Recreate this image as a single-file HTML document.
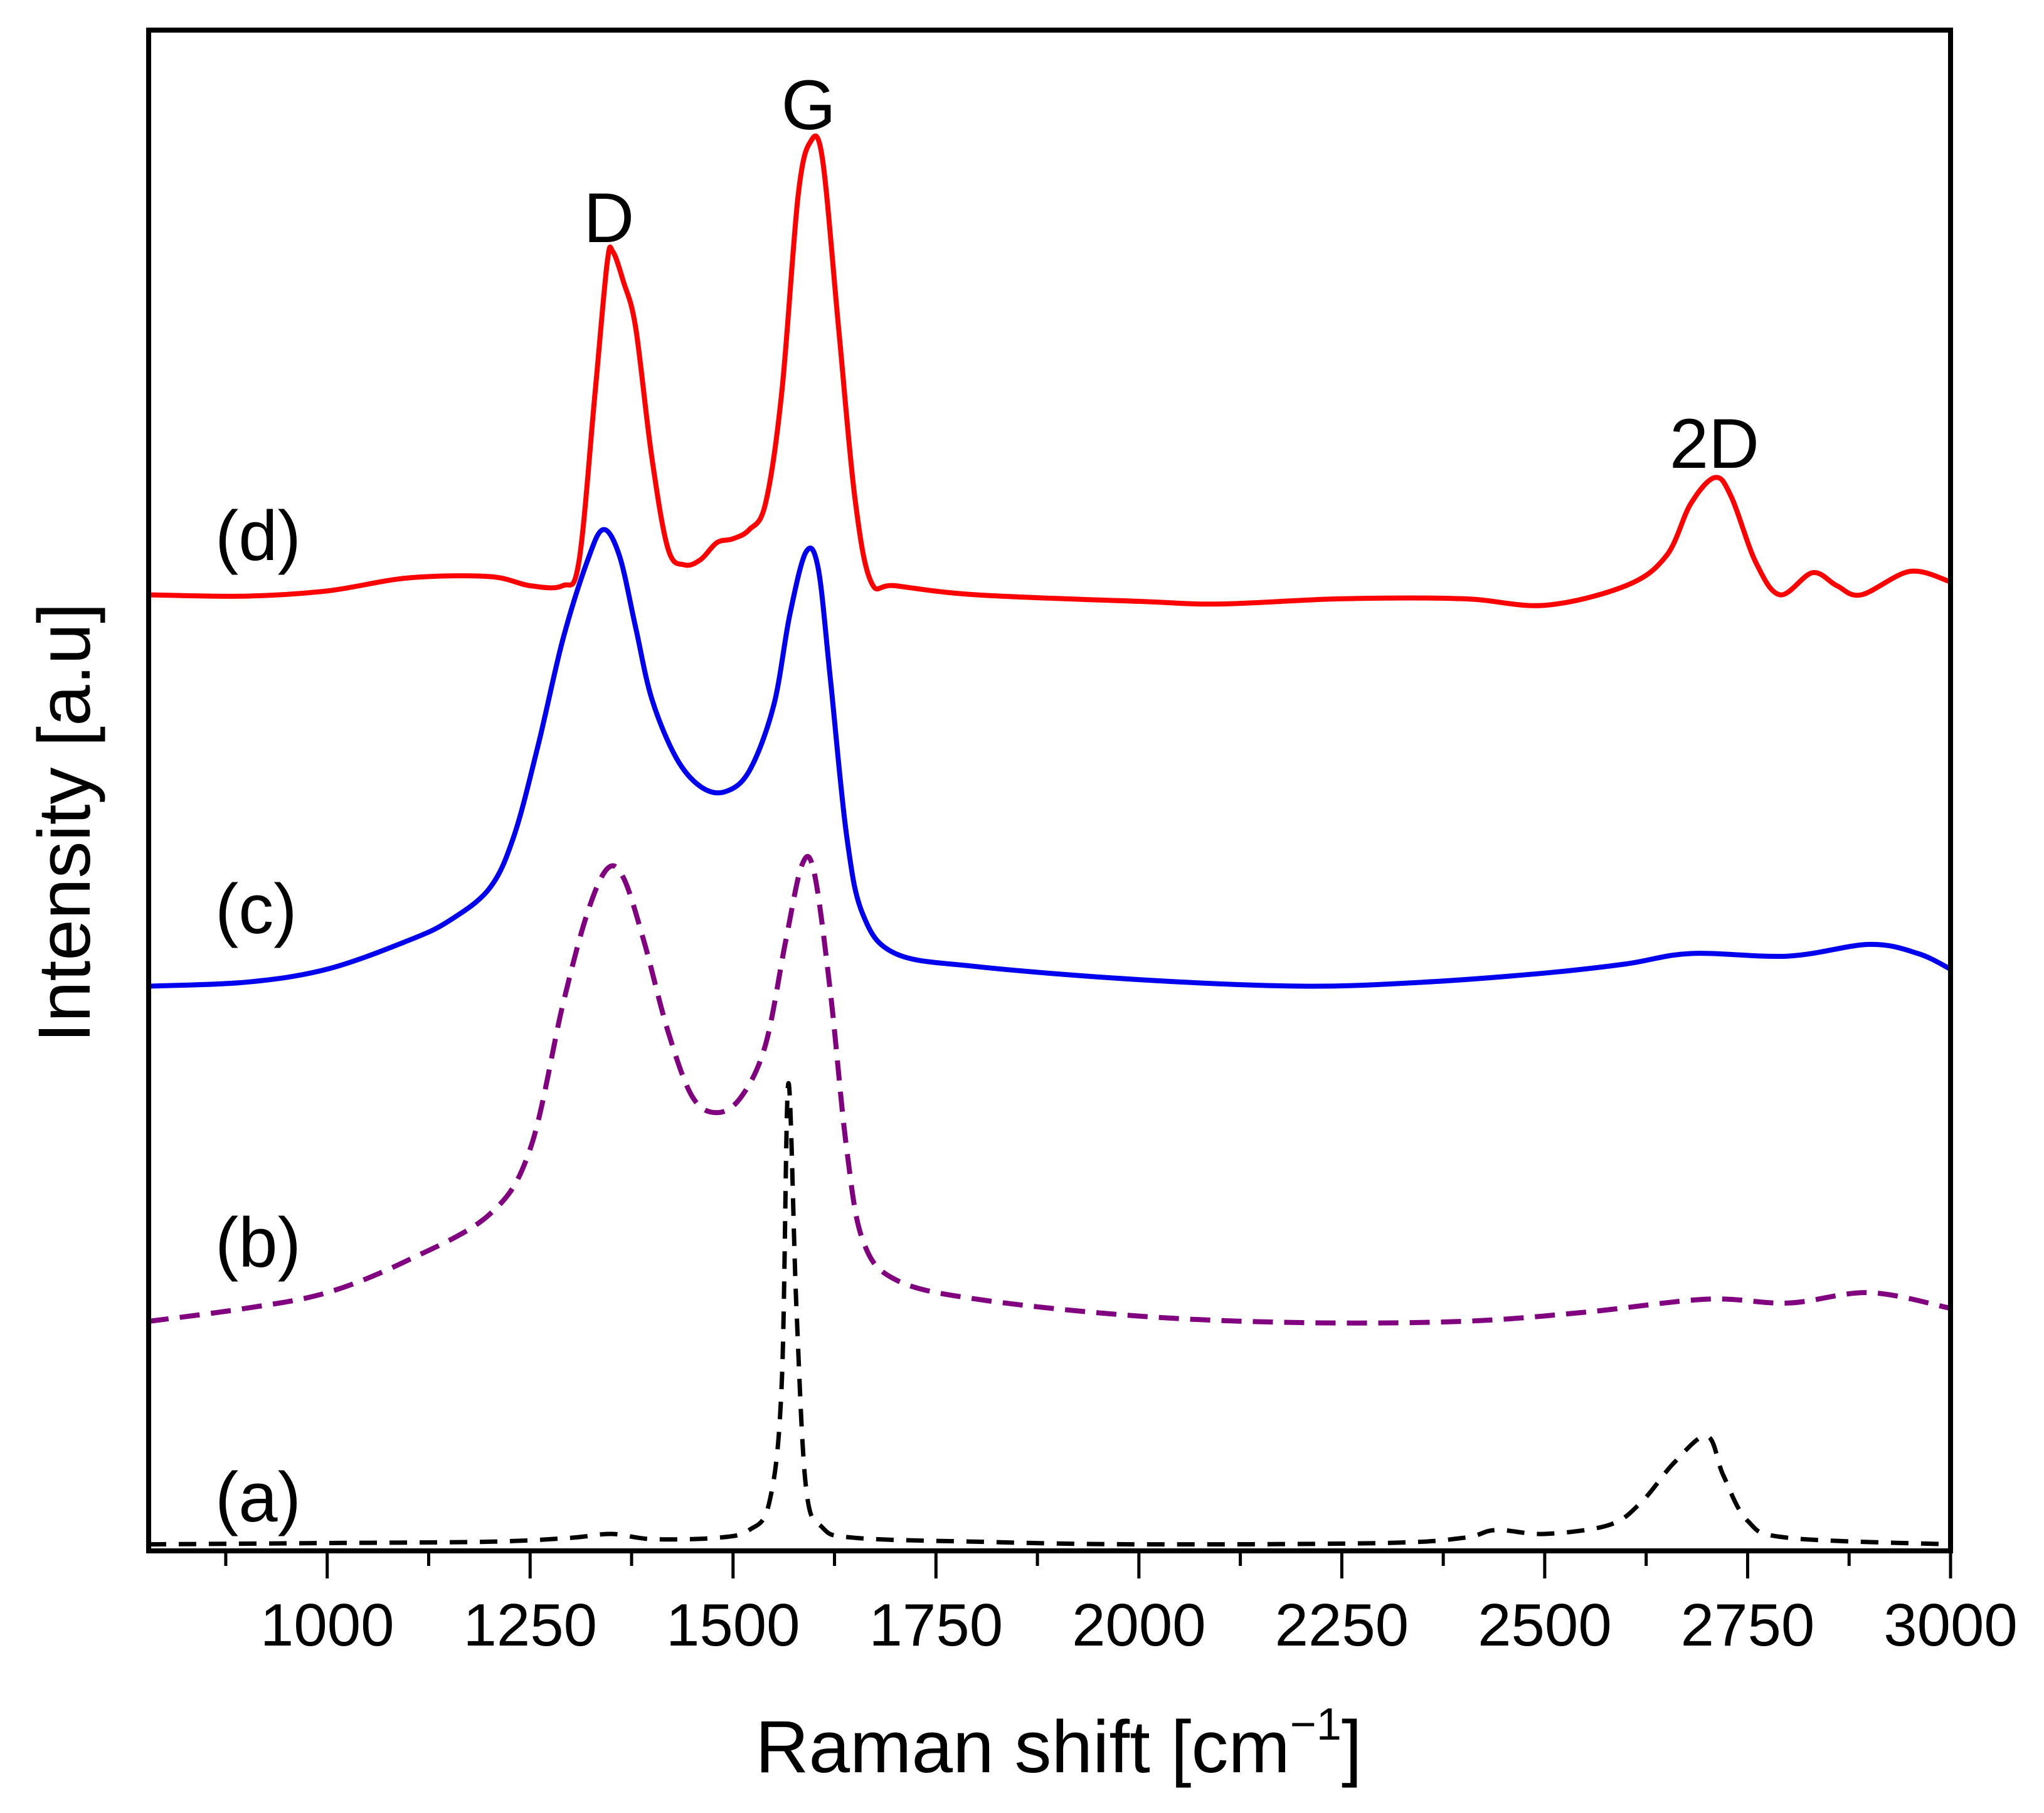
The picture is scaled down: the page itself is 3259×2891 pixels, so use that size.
<!DOCTYPE html>
<html><head><meta charset="utf-8"><style>
html,body{margin:0;padding:0;background:#fff;}
svg{display:block;font-family:"Liberation Sans",Arial,sans-serif;}
</style></head><body>
<svg id="chart" width="3259" height="2891" viewBox="0 0 3259 2891">
<g id="plot"></g>
</svg>
<script>
// ---- data (x in cm^-1, y on pixel-like intensity scale 22(top)..1188(bottom)) ----
const xTicks = [1000,1250,1500,1750,2000,2250,2500,2750,3000];
const xMinorTicks = [875,1125,1375,1625,1875,2125,2375,2625,2875];
const dX = [780,900,1000,1100,1200,1250,1290,1310,1330,1345,1352,1365,1380,1400,1420,1440,1460,1480,1500,1520,1540,1560,1580,1595,1610,1630,1650,1670,1700,1800,2000,2100,2250,2400,2500,2600,2650,2680,2710,2730,2760,2790,2830,2860,2890,2950,3000];
const dY = [455,456,452,442,441,448,448,430,300,200,192,215,250,350,420,432,428,415,412,405,385,300,150,108,120,250,380,445,448,455,460,462,458,458,463,448,425,385,365,380,430,455,438,448,455,437,445];
const cX = [780,900,1000,1100,1150,1200,1230,1260,1290,1320,1340,1360,1380,1400,1430,1460,1490,1520,1550,1570,1590,1605,1620,1640,1660,1700,1800,2000,2200,2350,2500,2600,2680,2800,2900,2960,3000];
const cY = [755,752,742,720,705,680,640,570,490,430,405,425,480,535,580,602,606,590,540,470,422,435,520,640,700,730,740,750,755,752,745,738,730,732,723,730,742];
const bX = [780,900,1000,1100,1200,1250,1290,1320,1345,1365,1390,1420,1450,1480,1510,1540,1565,1585,1600,1620,1640,1660,1700,1800,2000,2200,2400,2550,2700,2800,2900,3000];
const bY = [1012,1002,990,965,930,880,770,700,665,672,720,790,840,852,840,800,720,662,668,760,880,950,980,995,1008,1013,1012,1005,995,998,990,1002];
const aX = [780,1000,1200,1300,1350,1400,1480,1520,1545,1560,1568,1578,1590,1610,1650,1800,2000,2300,2400,2440,2500,2580,2620,2660,2700,2720,2750,2800,3000];
const aY = [1183,1182,1181,1178,1175,1179,1178,1172,1150,1060,830,1000,1140,1170,1178,1181,1183,1182,1178,1172,1175,1168,1150,1120,1100,1130,1165,1178,1183];
// ---- axes ----
const L=237,R=3110,T=48,B=2473,XMIN=780,XMAX=3000;
function sx(v){return L+(v-XMIN)/(XMAX-XMIN)*(R-L);}
function sy(v){return T+(v-22)/(1188-22)*(B-T);}
const NS="http://www.w3.org/2000/svg";
const g=document.getElementById('plot');
function el(t,a){const e=document.createElementNS(NS,t);for(const k in a)e.setAttribute(k,a[k]);g.appendChild(e);return e;}
function series(xs,ys,color,dash,name,w){
  const P=xs.map((x,i)=>[sx(x),sy(ys[i])]);
  let d='M'+P[0][0].toFixed(1)+','+P[0][1].toFixed(1);
  for(let i=0;i<P.length-1;i++){
    const p0=P[Math.max(0,i-1)],p1=P[i],p2=P[i+1],p3=P[Math.min(P.length-1,i+2)];
    const c1=[p1[0]+(p2[0]-p0[0])/6,p1[1]+(p2[1]-p0[1])/6];
    const c2=[p2[0]-(p3[0]-p1[0])/6,p2[1]-(p3[1]-p1[1])/6];
    d+='C'+c1[0].toFixed(1)+','+c1[1].toFixed(1)+' '+c2[0].toFixed(1)+','+c2[1].toFixed(1)+' '+p2[0].toFixed(1)+','+p2[1].toFixed(1);
  }
  const p=el('path',{d:d,fill:'none',stroke:color,'stroke-width':w,'stroke-linejoin':'round'});
  if(dash)p.setAttribute('stroke-dasharray',dash);
  
  
}
series(aX,aY,'#000','28 20','series-a',7);
series(bX,bY,'#800080','32 18','series-b',8);
series(cX,cY,'#0000ee',null,'series-c',8);
series(dX,dY,'#ff0000',null,'series-d',8);
const frame=el('rect',{x:L,y:T,width:R-L,height:B-T,fill:'none',stroke:'#000','stroke-width':8});


xTicks.forEach(v=>{
  const t=el('line',{x1:sx(v),x2:sx(v),y1:B,y2:B+44,stroke:'#000','stroke-width':5});
  
  
  const lb=el('text',{x:sx(v),y:2624,'text-anchor':'middle','font-size':96});
  lb.textContent=v;
  
  
});
xMinorTicks.forEach(v=>{
  const t=el('line',{x1:sx(v),x2:sx(v),y1:B,y2:B+24,stroke:'#000','stroke-width':5});
  
  
});
function txt(x,y,s,name,extra){const t=el('text',Object.assign({x:x,y:y},extra||{}));t.textContent=s;return t;}
const xt=el('text',{x:1688,y:2826,'text-anchor':'middle','font-size':118});


xt.innerHTML='Raman shift [cm<tspan dy="-52" font-size="72">−1</tspan><tspan dy="52">]</tspan>';
txt(0,0,'Intensity [a.u]','y-axis-title',{'text-anchor':'middle','font-size':118,transform:'translate(143,1312) rotate(-90)'});
txt(343,893,'(d)','label-d',{'font-size':112});
txt(343,1488,'(c)','label-c',{'font-size':112});
txt(343,2020,'(b)','label-b',{'font-size':112});
txt(343,2426,'(a)','label-a',{'font-size':112});
txt(sx(1347),386,'D','peak-label-d',{'font-size':112,'text-anchor':'middle'});
txt(sx(1593),206,'G','peak-label-g',{'font-size':112,'text-anchor':'middle'});
txt(sx(2709),746,'2D','peak-label-2d',{'font-size':112,'text-anchor':'middle'});
</script>
</body></html>
